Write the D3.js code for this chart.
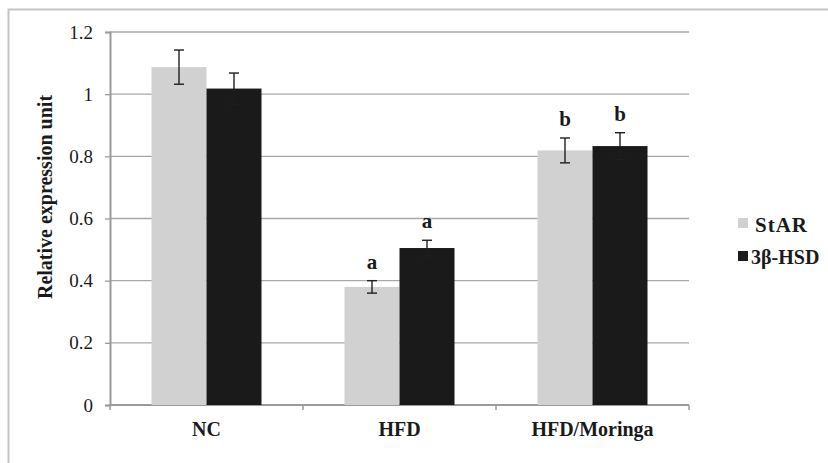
<!DOCTYPE html>
<html>
<head>
<meta charset="utf-8">
<script src="https://cdn.jsdelivr.net/npm/d3@7"></script>
<style>
  body { margin: 0; background: #fff; }
</style>
</head>
<body>
<div id="chart"></div>
<script>
// data
const groups = ["NC", "HFD", "HFD/Moringa"];
const seriesNames = ["StAR", "3β-HSD"];
const starVals = [1.087, 0.380, 0.819];
const starErr = [0.055, 0.020, 0.040];
const hsdVals = [1.018, 0.505, 0.833];
const hsdErr = [0.050, 0.025, 0.043];
const starSig = ["", "a", "b"];
const hsdSig = ["", "a", "b"];
const yTicks = [0, 0.2, 0.4, 0.6, 0.8, 1, 1.2];

const W = 828, H = 463;
const plotL = 110, plotR = 689, plotT = 32, plotB = 405;
const colors = ["#d0d1d0", "#1a1a1a"];
const serif = "'Liberation Serif', 'Times New Roman', serif";

const svg = d3.select("#chart").append("svg")
    .attr("width", W)
    .attr("height", H);

// outer frame (top and left edges visible)
svg.append("path")
    .attr("d", "M8.5,463 V9.5 H828")
    .attr("fill", "none")
    .attr("stroke", "#c4c4c4")
    .attr("stroke-width", 2);

const x = d3.scaleBand()
    .domain(groups)
    .range([plotL, plotR])
    .paddingInner(0.43)
    .paddingOuter(0.215);

const xs = d3.scaleBand()
    .domain(seriesNames)
    .range([0, x.bandwidth()]);

const y = d3.scaleLinear()
    .domain([0, 1.2])
    .range([plotB, plotT]);

// gridlines
svg.append("g")
    .selectAll("line")
    .data(yTicks.filter(d => d > 0))
    .enter().append("line")
    .attr("x1", plotL).attr("x2", plotR)
    .attr("y1", d => y(d)).attr("y2", d => y(d))
    .attr("stroke", "#a8a8a8")
    .attr("stroke-width", 1.3);

// y axis
const yAxis = svg.append("g")
    .attr("transform", "translate(" + plotL + ",0)")
    .call(d3.axisLeft(y).tickValues(yTicks).tickSize(5).tickPadding(12)
        .tickFormat(d => d === 0 ? "0" : String(d)));
yAxis.attr("font-family", null);
yAxis.select(".domain").attr("stroke", "#9a9a9a").attr("stroke-width", 2);
yAxis.selectAll(".tick line").attr("stroke", "#9a9a9a").attr("stroke-width", 1.3);
yAxis.selectAll(".tick text")
    .style("font-size", "19px");

// x axis line and boundary ticks
svg.append("line")
    .attr("x1", plotL).attr("x2", plotR)
    .attr("y1", plotB).attr("y2", plotB)
    .attr("stroke", "#9a9a9a")
    .attr("stroke-width", 2);

const bounds = groups.map(g => x(g) - x.step() * x.paddingInner() / 2)
    .concat([plotR]);
svg.append("g")
    .selectAll("line")
    .data(bounds)
    .enter().append("line")
    .attr("x1", d => d).attr("x2", d => d)
    .attr("y1", plotB).attr("y2", plotB + 5)
    .attr("stroke", "#9a9a9a")
    .attr("stroke-width", 1.5);

svg.append("g")
    .selectAll("text")
    .data(groups)
    .enter().append("text")
    .attr("x", d => x(d) + x.bandwidth() / 2)
    .attr("y", 436)
    .attr("text-anchor", "middle")
    .style("font-size", "20px")
    .style("font-weight", "bold")
    .text(d => d);

// y title
svg.append("text")
    .attr("transform", "translate(52,197) rotate(-90)")
    .attr("text-anchor", "middle")
    .style("font-size", "20px")
    .style("font-weight", "bold")
    .text("Relative expression unit");

// bars
const series = [
    {name: seriesNames[0], vals: starVals, err: starErr, sig: starSig},
    {name: seriesNames[1], vals: hsdVals, err: hsdErr, sig: hsdSig}
];

series.forEach(function(s, si) {
    const rows = groups.map((g, i) => ({g: g, v: s.vals[i], e: s.err[i], sig: s.sig[i]}));
    const cx = d => x(d.g) + xs(s.name) + xs.bandwidth() / 2;

    svg.append("g")
        .selectAll("rect")
        .data(rows)
        .enter().append("rect")
        .attr("x", d => x(d.g) + xs(s.name))
        .attr("y", d => y(d.v))
        .attr("width", xs.bandwidth())
        .attr("height", d => y(0) - y(d.v))
        .attr("fill", colors[si]);

    const eb = svg.append("g")
        .attr("stroke", "#1f1f1f")
        .attr("stroke-width", 1.4);
    eb.selectAll("line.v")
        .data(rows)
        .enter().append("line")
        .attr("x1", cx).attr("x2", cx)
        .attr("y1", d => y(d.v + d.e)).attr("y2", d => y(d.v - d.e));
    eb.selectAll("line.t")
        .data(rows)
        .enter().append("line")
        .attr("x1", d => cx(d) - 5).attr("x2", d => cx(d) + 5)
        .attr("y1", d => y(d.v + d.e)).attr("y2", d => y(d.v + d.e));
    eb.selectAll("line.b")
        .data(rows)
        .enter().append("line")
        .attr("x1", d => cx(d) - 5).attr("x2", d => cx(d) + 5)
        .attr("y1", d => y(d.v - d.e)).attr("y2", d => y(d.v - d.e));

    svg.append("g")
        .selectAll("text")
        .data(rows.filter(d => d.sig))
        .enter().append("text")
        .attr("x", cx)
        .attr("y", d => y(d.v + d.e) - 12)
        .attr("text-anchor", "middle")
        .style("font-size", "21px")
        .style("font-weight", "bold")
        .text(d => d.sig);
});

// legend
const legend = svg.append("g");
seriesNames.forEach(function(n, i) {
    legend.append("rect")
        .attr("x", 738)
        .attr("y", 218 + i * 33)
        .attr("width", 10)
        .attr("height", 10)
        .attr("fill", colors[i]);
    legend.append("text")
        .attr("x", i === 0 ? 755 : 751)
        .attr("y", 232 + i * 32)
        .style("font-size", i === 0 ? "21px" : "20px")
        .style("letter-spacing", i === 0 ? "1px" : "0px")
        .style("font-weight", "bold")
        .text(n);
});

svg.selectAll("text")
    .style("font-family", serif)
    .attr("fill", "#1a1a1a");
</script>
</body>
</html>
